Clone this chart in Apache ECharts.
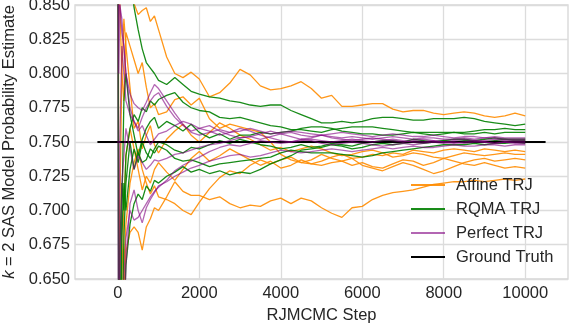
<!DOCTYPE html>
<html>
<head>
<meta charset="utf-8">
<script src="https://cdn.jsdelivr.net/npm/echarts@6/dist/echarts.min.js"></script>
<style>
  html, body { margin: 0; padding: 0; background: #fff; }
  #main { width: 572px; height: 324px; }
</style>
</head>
<body>
<div id="main"></div>
<script>
// RJMCMC steps at which the running estimates were read off
const steps = [0, 25, 50, 100, 150, 200, 300, 400, 500, 600, 700, 800, 900, 1000, 1200, 1400, 1600, 1800,
  2000, 2250, 2500, 2750, 3000, 3250, 3500, 3750, 4000, 4250, 4500, 4750, 5000, 5250, 5500, 5750, 6000,
  6250, 6500, 6750, 7000, 7250, 7500, 7750, 8000, 8250, 8500, 8750, 9000, 9250, 9500, 9750, 10000];

// Affine TRJ runs
const affine1 = [1.0, 0.96, 0.93, 0.90, 0.88, 0.87, 0.86, 0.851, 0.843, 0.846, 0.848, 0.838, 0.842, 0.832, 0.812, 0.800, 0.797, 0.801, 0.796, 0.783, 0.786, 0.793, 0.803, 0.799, 0.791, 0.788, 0.789, 0.791, 0.794, 0.789, 0.782, 0.784, 0.776, 0.776, 0.777, 0.778, 0.778, 0.774, 0.772, 0.773, 0.773, 0.771, 0.770, 0.771, 0.772, 0.771, 0.769, 0.768, 0.769, 0.771, 0.769];
const affine2 = [1.0, 0.9, 0.85, 0.8, 0.78, 0.83, 0.82, 0.81, 0.80, 0.808, 0.79, 0.775, 0.778, 0.77, 0.772, 0.781, 0.783, 0.777, 0.782, 0.767, 0.760, 0.763, 0.761, 0.759, 0.757, 0.750, 0.741, 0.737, 0.735, 0.734, 0.733, 0.735, 0.736, 0.738, 0.739, 0.741, 0.740, 0.742, 0.741, 0.744, 0.743, 0.742, 0.744, 0.745, 0.744, 0.743, 0.745, 0.744, 0.743, 0.744, 0.743];
const affine3 = [0.0, 0.5, 0.7, 0.8, 0.84, 0.82, 0.79, 0.76, 0.765, 0.745, 0.755, 0.762, 0.748, 0.742, 0.752, 0.758, 0.763, 0.755, 0.75, 0.757, 0.764, 0.76, 0.755, 0.752, 0.748, 0.744, 0.746, 0.743, 0.745, 0.747, 0.745, 0.742, 0.740, 0.741, 0.743, 0.744, 0.742, 0.739, 0.740, 0.742, 0.741, 0.739, 0.738, 0.740, 0.742, 0.741, 0.740, 0.741, 0.742, 0.741, 0.741];
const affine4 = [1.0, 0.7, 0.6, 0.65, 0.7, 0.74, 0.76, 0.745, 0.73, 0.715, 0.725, 0.72, 0.73, 0.735, 0.728, 0.722, 0.73, 0.738, 0.743, 0.736, 0.74, 0.745, 0.741, 0.737, 0.733, 0.736, 0.731, 0.733, 0.737, 0.734, 0.736, 0.739, 0.741, 0.738, 0.733, 0.731, 0.729, 0.732, 0.735, 0.733, 0.730, 0.727, 0.729, 0.732, 0.735, 0.737, 0.738, 0.736, 0.737, 0.738, 0.737];
const affine5 = [0.0, 0.4, 0.55, 0.62, 0.66, 0.69, 0.72, 0.735, 0.745, 0.73, 0.72, 0.712, 0.718, 0.71, 0.708, 0.705, 0.700, 0.697, 0.706, 0.716, 0.724, 0.729, 0.727, 0.733, 0.737, 0.734, 0.737, 0.739, 0.735, 0.737, 0.741, 0.738, 0.736, 0.733, 0.735, 0.732, 0.731, 0.734, 0.737, 0.736, 0.733, 0.735, 0.738, 0.736, 0.734, 0.733, 0.735, 0.733, 0.731, 0.732, 0.731];
const affine6 = [0.0, 0.3, 0.5, 0.6, 0.64, 0.67, 0.684, 0.688, 0.684, 0.671, 0.688, 0.694, 0.702, 0.700, 0.710, 0.721, 0.714, 0.711, 0.711, 0.708, 0.710, 0.705, 0.702, 0.704, 0.703, 0.707, 0.709, 0.705, 0.709, 0.707, 0.702, 0.698, 0.695, 0.702, 0.703, 0.708, 0.711, 0.713, 0.714, 0.715, 0.717, 0.719, 0.720, 0.721, 0.721, 0.722, 0.721, 0.722, 0.723, 0.722, 0.723];

// RQMA TRJ runs
const rqma1 = [1.0, 0.95, 0.93, 0.91, 0.89, 0.88, 0.87, 0.848, 0.832, 0.818, 0.808, 0.804, 0.800, 0.795, 0.792, 0.797, 0.792, 0.787, 0.785, 0.783, 0.782, 0.780, 0.779, 0.777, 0.776, 0.777, 0.777, 0.773, 0.770, 0.767, 0.764, 0.764, 0.765, 0.764, 0.765, 0.767, 0.768, 0.768, 0.767, 0.766, 0.766, 0.767, 0.767, 0.767, 0.768, 0.767, 0.765, 0.764, 0.763, 0.762, 0.763];
const rqma2 = [0.0, 0.5, 0.67, 0.72, 0.70, 0.74, 0.76, 0.77, 0.765, 0.775, 0.772, 0.78, 0.777, 0.781, 0.784, 0.786, 0.779, 0.775, 0.773, 0.772, 0.768, 0.767, 0.768, 0.766, 0.764, 0.762, 0.761, 0.759, 0.759, 0.758, 0.757, 0.759, 0.760, 0.761, 0.761, 0.761, 0.760, 0.759, 0.758, 0.757, 0.757, 0.757, 0.757, 0.757, 0.757, 0.758, 0.759, 0.759, 0.760, 0.759, 0.759];
const rqma3 = [1.0, 0.5, 0.6, 0.7, 0.78, 0.80, 0.77, 0.755, 0.74, 0.752, 0.76, 0.765, 0.768, 0.76, 0.765, 0.762, 0.758, 0.763, 0.757, 0.753, 0.756, 0.752, 0.755, 0.755, 0.757, 0.756, 0.757, 0.758, 0.76, 0.761, 0.761, 0.760, 0.758, 0.757, 0.756, 0.756, 0.755, 0.755, 0.756, 0.757, 0.756, 0.755, 0.756, 0.757, 0.756, 0.756, 0.757, 0.756, 0.757, 0.757, 0.757];
const rqma4 = [0.0, 0.3, 0.55, 0.68, 0.72, 0.70, 0.73, 0.745, 0.735, 0.75, 0.742, 0.738, 0.745, 0.75, 0.748, 0.744, 0.742, 0.746, 0.745, 0.748, 0.751, 0.749, 0.752, 0.75, 0.748, 0.747, 0.745, 0.746, 0.748, 0.746, 0.747, 0.749, 0.748, 0.747, 0.749, 0.75, 0.751, 0.751, 0.75, 0.752, 0.751, 0.75, 0.751, 0.752, 0.752, 0.751, 0.752, 0.753, 0.752, 0.752, 0.752];
const rqma5 = [1.0, 0.6, 0.5, 0.6, 0.68, 0.72, 0.75, 0.73, 0.742, 0.735, 0.737, 0.745, 0.742, 0.747, 0.744, 0.738, 0.736, 0.737, 0.735, 0.732, 0.734, 0.735, 0.736, 0.737, 0.738, 0.739, 0.742, 0.744, 0.743, 0.742, 0.742, 0.742, 0.741, 0.740, 0.739, 0.740, 0.742, 0.743, 0.744, 0.745, 0.746, 0.747, 0.748, 0.748, 0.748, 0.749, 0.748, 0.749, 0.749, 0.750, 0.749];
const rqma6 = [0.0, 0.2, 0.4, 0.55, 0.62, 0.66, 0.69, 0.705, 0.712, 0.708, 0.718, 0.714, 0.722, 0.72, 0.725, 0.728, 0.732, 0.728, 0.73, 0.727, 0.729, 0.726, 0.728, 0.727, 0.73, 0.734, 0.737, 0.74, 0.744, 0.745, 0.746, 0.748, 0.747, 0.745, 0.746, 0.748, 0.749, 0.748, 0.749, 0.750, 0.749, 0.750, 0.751, 0.750, 0.751, 0.751, 0.750, 0.751, 0.752, 0.751, 0.751];

// Perfect TRJ runs
const perfect1 = [1.0, 0.9, 0.85, 0.83, 0.82, 0.80, 0.785, 0.778, 0.775, 0.773, 0.779, 0.786, 0.792, 0.789, 0.78, 0.771, 0.763, 0.757, 0.755, 0.757, 0.759, 0.757, 0.758, 0.760, 0.758, 0.756, 0.757, 0.758, 0.757, 0.756, 0.755, 0.756, 0.757, 0.756, 0.755, 0.754, 0.755, 0.756, 0.755, 0.754, 0.754, 0.755, 0.754, 0.753, 0.754, 0.754, 0.753, 0.754, 0.753, 0.753, 0.753];
const perfect2 = [0.0, 0.6, 0.75, 0.82, 0.80, 0.78, 0.77, 0.765, 0.76, 0.768, 0.775, 0.78, 0.784, 0.786, 0.776, 0.768, 0.762, 0.758, 0.76, 0.762, 0.758, 0.755, 0.753, 0.754, 0.756, 0.758, 0.756, 0.754, 0.752, 0.753, 0.755, 0.753, 0.752, 0.751, 0.752, 0.753, 0.752, 0.751, 0.750, 0.751, 0.752, 0.751, 0.750, 0.751, 0.752, 0.751, 0.751, 0.752, 0.751, 0.751, 0.751];
const perfect3 = [0.0, 0.3, 0.5, 0.6, 0.65, 0.68, 0.70, 0.693, 0.695, 0.70, 0.705, 0.71, 0.714, 0.717, 0.722, 0.729, 0.733, 0.736, 0.739, 0.743, 0.746, 0.748, 0.747, 0.749, 0.751, 0.750, 0.749, 0.750, 0.751, 0.752, 0.751, 0.750, 0.751, 0.752, 0.751, 0.750, 0.751, 0.752, 0.751, 0.750, 0.750, 0.751, 0.750, 0.749, 0.750, 0.751, 0.750, 0.749, 0.750, 0.750, 0.750];
const perfect4 = [1.0, 0.2, 0.35, 0.5, 0.6, 0.66, 0.705, 0.715, 0.70, 0.691, 0.702, 0.708, 0.713, 0.718, 0.721, 0.725, 0.728, 0.731, 0.733, 0.736, 0.738, 0.740, 0.741, 0.739, 0.740, 0.742, 0.744, 0.743, 0.742, 0.743, 0.744, 0.745, 0.744, 0.743, 0.744, 0.745, 0.746, 0.745, 0.746, 0.747, 0.746, 0.746, 0.747, 0.748, 0.747, 0.747, 0.748, 0.748, 0.747, 0.748, 0.748];
const perfect5 = [0.0, 0.5, 0.65, 0.72, 0.74, 0.76, 0.745, 0.73, 0.74, 0.735, 0.73, 0.733, 0.737, 0.736, 0.738, 0.741, 0.742, 0.744, 0.746, 0.748, 0.749, 0.751, 0.753, 0.754, 0.752, 0.754, 0.756, 0.757, 0.755, 0.754, 0.755, 0.754, 0.753, 0.754, 0.753, 0.752, 0.753, 0.754, 0.753, 0.752, 0.753, 0.753, 0.752, 0.752, 0.753, 0.752, 0.753, 0.753, 0.752, 0.752, 0.752];
const perfect6 = [1.0, 0.8, 0.85, 0.84, 0.82, 0.80, 0.775, 0.765, 0.758, 0.762, 0.755, 0.748, 0.752, 0.756, 0.758, 0.762, 0.765, 0.763, 0.760, 0.758, 0.755, 0.757, 0.760, 0.758, 0.755, 0.753, 0.751, 0.750, 0.752, 0.751, 0.749, 0.748, 0.749, 0.750, 0.749, 0.748, 0.747, 0.748, 0.749, 0.748, 0.749, 0.750, 0.749, 0.750, 0.749, 0.750, 0.750, 0.749, 0.750, 0.749, 0.749];

// ground truth
const truthSteps = [-500, 10500];
const truthValue = 0.75;

const xTicks = [0, 2000, 4000, 6000, 8000, 10000];

const FONT = "'Liberation Sans', Arial, sans-serif";
const TXT = '#262626';

function runSeries(name, runs, color, opacity) {
  return runs.map(vals => ({
    name: name,
    type: 'line',
    data: steps.map((s, i) => [s, vals[i]]),
    symbol: 'none',
    silent: true,
    lineStyle: { color: color, width: 1.3, opacity: opacity },
    itemStyle: { color: color, opacity: opacity },
    emphasis: { disabled: true }
  }));
}

const series = []
  .concat(runSeries('Affine TRJ', [affine1, affine2, affine3, affine4, affine5, affine6], '#ff8c00', 0.9))
  .concat(runSeries('RQMA TRJ', [rqma1, rqma2, rqma3, rqma4, rqma5, rqma6], '#008000', 0.9))
  .concat([{
    name: 'Ground Truth',
    type: 'line',
    data: truthSteps.map(s => [s, truthValue]),
    symbol: 'none',
    silent: true,
    lineStyle: { color: '#000', width: 2 },
    itemStyle: { color: '#000' },
    emphasis: { disabled: true }
  }])
  .concat(runSeries('Perfect TRJ', [perfect1, perfect2, perfect3, perfect4, perfect5, perfect6], '#800080', 0.6));

const chart = echarts.init(document.getElementById('main'), null, { renderer: 'canvas' });
chart.setOption({
  animation: false,
  backgroundColor: '#fff',
  textStyle: { fontFamily: FONT },
  grid: {
    left: 75, right: 4, top: 5, bottom: 45,
    outerBoundsMode: 'none',
    containLabel: false,
    show: true, borderColor: '#d6d6d6', borderWidth: 1.3, backgroundColor: '#fff'
  },
  legend: {
    orient: 'vertical',
    left: 406, top: 171,
    icon: 'rect',
    itemWidth: 34, itemHeight: 1.8, itemGap: 6,
    data: ['Affine TRJ', 'RQMA TRJ', 'Perfect TRJ', 'Ground Truth'],
    textStyle: { fontSize: 16.5, color: TXT, fontFamily: FONT, lineHeight: 18, padding: [0, 0, 0, 6] },
    selectedMode: false
  },
  xAxis: {
    type: 'value',
    min: -1050, max: 11050,
    name: 'RJMCMC Step',
    nameLocation: 'middle',
    nameGap: 26,
    nameTextStyle: { fontSize: 16.5, color: TXT, fontFamily: FONT },
    axisLine: { show: false },
    axisTick: { show: false, customValues: xTicks },
    axisLabel: { customValues: xTicks, fontSize: 16.5, color: TXT, margin: 6, fontFamily: FONT, formatter: v => String(v) },
    splitLine: { show: true, lineStyle: { color: '#dcdcdc', width: 1.3 } }
  },
  yAxis: {
    type: 'value',
    min: 0.65, max: 0.85, interval: 0.025,
    name: '{i|k} = 2 SAS Model Probability Estimate',
    nameLocation: 'middle',
    nameGap: 55,
    nameTextStyle: {
      fontSize: 16.5, color: TXT, fontFamily: FONT,
      rich: { i: { fontStyle: 'italic', fontSize: 16.5, color: TXT, fontFamily: FONT } }
    },
    axisLine: { show: false },
    axisTick: { show: false },
    axisLabel: { fontSize: 16.5, color: TXT, margin: 5, fontFamily: FONT, formatter: v => v.toFixed(3) },
    splitLine: { show: true, lineStyle: { color: '#dcdcdc', width: 1.3 } }
  },
  series: series
});
</script>
</body>
</html>
